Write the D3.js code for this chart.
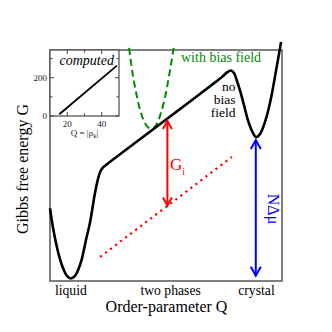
<!DOCTYPE html>
<html>
<head>
<meta charset="utf-8">
<script src="https://cdn.jsdelivr.net/npm/d3@7"></script>
<style>
  body { margin: 0; background: #fff; }
  svg { display: block; }
</style>
</head>
<body>
<div id="chart"></div>
<script>
var W = 332, H = 332;
var SERIF = "'Liberation Serif', 'DejaVu Serif', serif";

//Data (arbitrary units, Q on x, G on y, 0..100 inside the frame)
var freeEnergyNoBias = [
    [0, 31.5], [1.4, 22.5], [3.6, 12.1], [5.6, 5.6], [7.3, 2.2], [8.9, 1.1],
    [10.8, 2.2], [12.3, 5.2], [13.7, 9.5], [15.5, 17.7], [17.2, 25.1],
    [19.4, 38.1], [20.7, 44.2], [21.8, 47.6], [22.8, 49.1], [24.1, 50.2],
    [74.1, 88.3], [76.3, 90.3], [78.0, 91.1], [79.3, 90.0], [80.6, 86.6],
    [82.1, 81.8], [83.6, 76.2], [85.3, 69.7], [87.1, 64.9], [88.8, 62.3],
    [90.5, 63.6], [92.2, 67.5], [94.0, 73.6], [95.7, 81.4], [97.4, 90.9],
    [98.7, 98.3], [99.6, 103.5]
];
var freeEnergyBias = [
    [34.1, 100.9], [35.8, 88.7], [37.5, 79.7], [39.2, 72.7], [40.9, 68.4],
    [42.7, 66.2], [44.4, 66.0], [46.1, 68.2], [47.8, 72.7], [49.6, 79.7],
    [51.3, 88.7], [53.3, 100.9]
];
var crystalReference = [[21.6, 10.4], [78.4, 53.7]];
var interfaceArrow = [[50.6, 69.3], [50.6, 32.7]];
var chemPotArrow = [[88.7, 61.0], [88.7, 2.3]];
var phaseLabels = [
    { name: "liquid", q: 9 },
    { name: "two phases", q: 52 },
    { name: "crystal", q: 89 }
];

//Inset data: computed order parameter relation
var insetLine = [[15.4, 9], [48.8, 263]];
var insetXTicks = [20, 30, 40];
var insetXLabels = [20, 40];
var insetYTicks = [0, 100, 200, 300];
var insetYLabels = [0, 200];

var frame = { left: 50, right: 282, top: 50, bottom: 281 };
var inset = { left: 50, right: 119, top: 50, bottom: 116 };

var x = d3.scaleLinear().domain([0, 100]).range([frame.left, frame.right]);
var y = d3.scaleLinear().domain([0, 100]).range([frame.bottom, frame.top]);
var ix = d3.scaleLinear().domain([10, 50]).range([inset.left, inset.right]);
var iy = d3.scaleLinear().domain([0, 345]).range([inset.bottom, inset.top]);

var svg = d3.select("#chart").append("svg")
    .attr("width", W)
    .attr("height", H)
    .attr("font-family", SERIF);

var line = d3.line()
    .x(function(d) { return x(d[0]); })
    .y(function(d) { return y(d[1]); });

//Frame
svg.append("rect")
    .attr("x", frame.left).attr("y", frame.top)
    .attr("width", frame.right - frame.left)
    .attr("height", frame.bottom - frame.top)
    .attr("fill", "none")
    .attr("stroke", "#555")
    .attr("stroke-width", 1.5);

//Red dotted reference line
svg.append("path")
    .attr("d", line(crystalReference))
    .attr("fill", "none")
    .attr("stroke", "#ff0000")
    .attr("stroke-width", 2.2)
    .attr("stroke-dasharray", "2.2,4.1");

//Green dashed curve with bias field
svg.append("path")
    .attr("d", line.curve(d3.curveCatmullRom)(freeEnergyBias))
    .attr("fill", "none")
    .attr("stroke", "#008b00")
    .attr("stroke-width", 2)
    .attr("stroke-dasharray", "7,4");

//Black curve without bias
svg.append("path")
    .attr("d", line.curve(d3.curveCatmullRom)(freeEnergyNoBias))
    .attr("fill", "none")
    .attr("stroke", "#000")
    .attr("stroke-width", 2.6)
    .attr("stroke-linejoin", "round");

//Double headed arrows
function arrow(pts, color, hw, hl) {
    var x0 = x(pts[0][0]), y0 = y(pts[0][1]), y1 = y(pts[1][1]);
    var g = svg.append("g")
        .attr("fill", "none")
        .attr("stroke", color)
        .attr("stroke-width", 2);
    g.append("line").attr("x1", x0).attr("x2", x0).attr("y1", y0).attr("y2", y1);
    g.append("path").attr("d", "M" + (x0 - hw) + "," + (y0 + hl) + "L" + x0 + "," + y0 + "L" + (x0 + hw) + "," + (y0 + hl));
    g.append("path").attr("d", "M" + (x0 - hw) + "," + (y1 - hl) + "L" + x0 + "," + y1 + "L" + (x0 + hw) + "," + (y1 - hl));
}
arrow(interfaceArrow, "#ff0000", 4.5, 8);
arrow(chemPotArrow, "#0000ff", 5, 9);

//Labels inside the frame
var gi = svg.append("text")
    .attr("x", 170).attr("y", 170)
    .attr("fill", "#ff0000")
    .attr("font-size", "17px")
    .text("G");
gi.append("tspan")
    .attr("dy", 5)
    .attr("font-size", "10px")
    .text("i");

svg.append("text")
    .attr("transform", "translate(267.5,209) rotate(90)")
    .attr("text-anchor", "middle")
    .attr("fill", "#0000ff")
    .attr("font-size", "16px")
    .text("NΔμ");

svg.append("text")
    .attr("x", 181).attr("y", 61.5)
    .attr("fill", "#008b00")
    .attr("font-size", "14px")
    .text("with bias field");

svg.selectAll(".nobias")
    .data(["no", "bias", "field"])
    .enter().append("text")
    .attr("class", "nobias")
    .attr("x", 235.5)
    .attr("y", function(d, i) { return 91 + i * 13; })
    .attr("text-anchor", "end")
    .attr("font-size", "13.5px")
    .text(function(d) { return d; });

//Phase labels and axis titles
svg.selectAll(".phase")
    .data(phaseLabels)
    .enter().append("text")
    .attr("class", "phase")
    .attr("x", function(d) { return x(d.q); })
    .attr("y", 295)
    .attr("text-anchor", "middle")
    .attr("font-size", "13.7px")
    .text(function(d) { return d.name; });

svg.append("text")
    .attr("x", 166.5).attr("y", 312)
    .attr("text-anchor", "middle")
    .attr("font-size", "16px")
    .text("Order-parameter Q");

svg.append("text")
    .attr("transform", "translate(28,169) rotate(-90)")
    .attr("text-anchor", "middle")
    .attr("font-size", "16px")
    .text("Gibbs free energy G");

////////////////////////////////////////////
/////////////// Inset //////////////////////
////////////////////////////////////////////
var ins = svg.append("g");

ins.append("rect")
    .attr("x", inset.left).attr("y", inset.top)
    .attr("width", inset.right - inset.left)
    .attr("height", inset.bottom - inset.top)
    .attr("fill", "#fff")
    .attr("stroke", "#555")
    .attr("stroke-width", 1.3);

ins.selectAll(".xt")
    .data(insetXTicks)
    .enter().append("g")
    .each(function(d) {
        var len = insetXLabels.indexOf(d) >= 0 ? 4 : 2.5;
        var g = d3.select(this).attr("stroke", "#444").attr("stroke-width", 1);
        g.append("line").attr("x1", ix(d)).attr("x2", ix(d)).attr("y1", inset.bottom).attr("y2", inset.bottom - len);
        g.append("line").attr("x1", ix(d)).attr("x2", ix(d)).attr("y1", inset.top).attr("y2", inset.top + len);
    });

ins.selectAll(".yt")
    .data(insetYTicks)
    .enter().append("g")
    .each(function(d) {
        var len = insetYLabels.indexOf(d) >= 0 ? 4 : 2.5;
        var g = d3.select(this).attr("stroke", "#444").attr("stroke-width", 1);
        g.append("line").attr("x1", inset.left).attr("x2", inset.left + len).attr("y1", iy(d)).attr("y2", iy(d));
        g.append("line").attr("x1", inset.right).attr("x2", inset.right - len).attr("y1", iy(d)).attr("y2", iy(d));
    });

ins.selectAll(".xl")
    .data(insetXLabels)
    .enter().append("text")
    .attr("x", function(d) { return ix(d); })
    .attr("y", 126.5)
    .attr("text-anchor", "middle")
    .attr("font-size", "9px")
    .attr("fill", "#222")
    .text(function(d) { return d; });

ins.selectAll(".yl")
    .data(insetYLabels)
    .enter().append("text")
    .attr("x", 47)
    .attr("y", function(d) { return iy(d) + 3; })
    .attr("text-anchor", "end")
    .attr("font-size", "9px")
    .attr("fill", "#222")
    .text(function(d) { return d; });

var ql = ins.append("text")
    .attr("x", 84.5).attr("y", 135.5)
    .attr("text-anchor", "middle")
    .attr("font-size", "9px")
    .attr("fill", "#222");
ql.append("tspan").text("Q = |ρ");
ql.append("tspan").attr("dy", 2).attr("font-size", "6.5px").text("k");
ql.append("tspan").attr("dy", -2).text("|");

ins.append("path")
    .attr("d", d3.line()
        .x(function(d) { return ix(d[0]); })
        .y(function(d) { return iy(d[1]); })(insetLine))
    .attr("fill", "none")
    .attr("stroke", "#000")
    .attr("stroke-width", 1.8);

ins.append("text")
    .attr("x", 59.5).attr("y", 65)
    .attr("font-size", "14px")
    .attr("font-style", "italic")
    .text("computed");
</script>
</body>
</html>
